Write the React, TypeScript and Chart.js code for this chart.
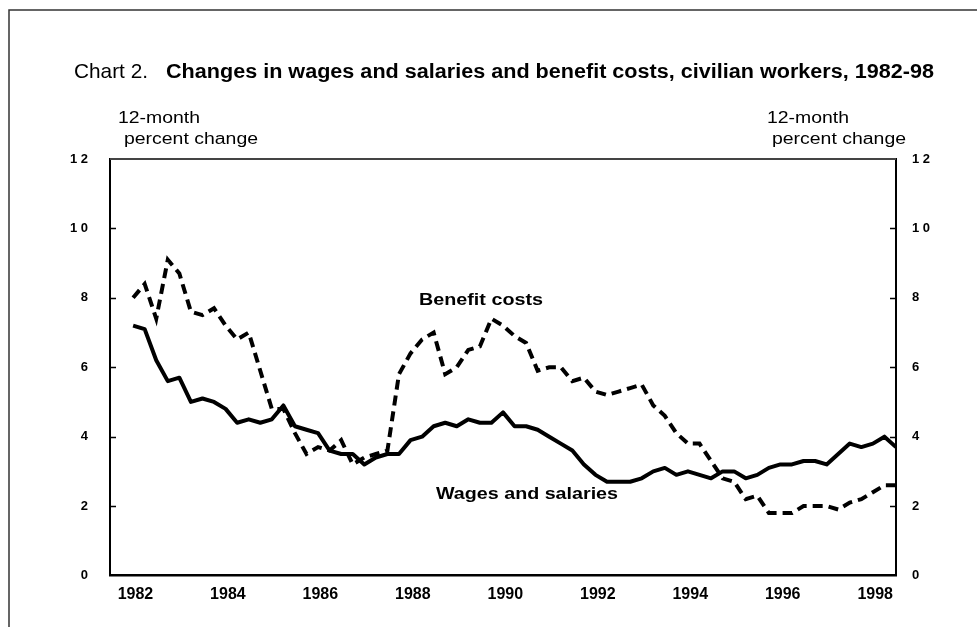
import React, { useEffect, useRef } from "react";
import { Chart, registerables } from "chart.js";

Chart.register(...registerables);

// ---- Data (12-month percent change, quarterly, June 1982 – December 1998) ----
const years = [1982, 1983, 1984, 1985, 1986, 1987, 1988, 1989, 1990, 1991, 1992, 1993, 1994, 1995, 1996, 1997, 1998];
const quarterMonths = ["Mar", "Jun", "Sep", "Dec"];
const monthNumber: Record<string, number> = { Mar: 3, Jun: 6, Sep: 9, Dec: 12 };
// first observation is June 1982
const quarterLabels: string[] = years
  .flatMap((y) => quarterMonths.map((m) => `${m} ${y}`))
  .filter((l) => l !== "Mar 1982");

const wagesAndSalaries = [
  7.2, 7.1, 6.2,
  5.6, 5.7, 5.0, 5.1,
  5.0, 4.8, 4.4, 4.5,
  4.4, 4.5, 4.9, 4.3,
  4.2, 4.1, 3.6, 3.5,
  3.5, 3.2, 3.4, 3.5,
  3.5, 3.9, 4.0, 4.3,
  4.4, 4.3, 4.5, 4.4,
  4.4, 4.7, 4.3, 4.3,
  4.2, 4.0, 3.8, 3.6,
  3.2, 2.9, 2.7, 2.7,
  2.7, 2.8, 3.0, 3.1,
  2.9, 3.0, 2.9, 2.8,
  3.0, 3.0, 2.8, 2.9,
  3.1, 3.2, 3.2, 3.3,
  3.3, 3.2, 3.5, 3.8,
  3.7, 3.8, 4.0, 3.7,
];

const benefitCosts = [
  8.0, 8.4, 7.4,
  9.1, 8.7, 7.6, 7.5,
  7.7, 7.2, 6.8, 7.0,
  5.9, 4.8, 4.8, 4.1,
  3.5, 3.7, 3.6, 3.9,
  3.2, 3.4, 3.5, 3.6,
  5.8, 6.4, 6.8, 7.0,
  5.8, 6.0, 6.5, 6.6,
  7.4, 7.2, 6.9, 6.7,
  5.9, 6.0, 6.0, 5.6,
  5.7, 5.3, 5.2, 5.3,
  5.4, 5.5, 4.9, 4.6,
  4.1, 3.8, 3.8, 3.3,
  2.8, 2.7, 2.2, 2.3,
  1.8, 1.8, 1.8, 2.0,
  2.0, 2.0, 1.9, 2.1,
  2.2, 2.4, 2.6, 2.6,
];

const xTickLabels = ["1982", "1984", "1986", "1988", "1990", "1992", "1994", "1996", "1998"];
const yTickValues = [0, 2, 4, 6, 8, 10, 12];

const titlePrefix = "Chart 2.";
const titleMain = "Changes in wages and salaries and benefit costs, civilian workers, 1982-98";
const unitLine1 = "12-month";
const unitLine2 = "percent change";
const benefitLabel = "Benefit costs";
const wagesLabel = "Wages and salaries";

// quarter-end position on a continuous year axis
const toYearPos = (label: string) => {
  const [m, y] = label.split(" ");
  return Number(y) + monthNumber[m] / 12;
};

const FONT = "'Liberation Sans', Arial, Helvetica, sans-serif";

function fitText(ctx: CanvasRenderingContext2D, text: string, font: string, x: number, baseline: number, width: number) {
  ctx.save();
  ctx.font = font;
  ctx.fillStyle = "#000";
  ctx.textAlign = "left";
  ctx.textBaseline = "alphabetic";
  const w = ctx.measureText(text).width;
  ctx.translate(x, baseline);
  ctx.scale(width / w, 1);
  ctx.fillText(text, 0, 0);
  ctx.restore();
}

const decorPlugin = {
  id: "decor",
  afterDraw(chart: any) {
    const ctx: CanvasRenderingContext2D = chart.ctx;
    const { left, right, top } = chart.chartArea;
    const y = chart.scales.y;

    ctx.save();
    // outer frame (top and left edges)
    ctx.strokeStyle = "#333";
    ctx.lineWidth = 1.5;
    ctx.beginPath();
    ctx.moveTo(977, 10);
    ctx.lineTo(9, 10);
    ctx.lineTo(9, 627);
    ctx.stroke();

    // plot top border
    ctx.strokeStyle = "#444";
    ctx.lineWidth = 2;
    ctx.beginPath();
    ctx.moveTo(left, top);
    ctx.lineTo(right, top);
    ctx.stroke();

    // inner tick marks on both vertical axes
    ctx.strokeStyle = "#000";
    ctx.lineWidth = 1.5;
    yTickValues.forEach((v) => {
      if (v === 0 || v === 12) return;
      const py = Math.round(y.getPixelForValue(v)) + 0.5;
      ctx.beginPath();
      ctx.moveTo(left, py);
      ctx.lineTo(left + 6, py);
      ctx.moveTo(right - 6, py);
      ctx.lineTo(right, py);
      ctx.stroke();
    });
    ctx.restore();

    // title
    fitText(ctx, titlePrefix, `21px ${FONT}`, 74, 78, 74);
    fitText(ctx, titleMain, `bold 20px ${FONT}`, 166, 78, 768);

    // unit labels
    fitText(ctx, unitLine1, `16px ${FONT}`, 118, 123, 82);
    fitText(ctx, unitLine2, `16px ${FONT}`, 124, 144, 134);
    fitText(ctx, unitLine1, `16px ${FONT}`, 767, 123, 82);
    fitText(ctx, unitLine2, `16px ${FONT}`, 772, 144, 134);

    // series labels
    fitText(ctx, benefitLabel, `bold 16px ${FONT}`, 419, 305, 124);
    fitText(ctx, wagesLabel, `bold 16px ${FONT}`, 436, 499, 182);
  },
};

const spaced = (v: number) => String(v).split("").join(" ");

export default function App() {
  const canvasRef = useRef<HTMLCanvasElement | null>(null);

  useEffect(() => {
    document.body.style.margin = "0";
    const canvas = canvasRef.current;
    if (!canvas) return;

    const wagesData = quarterLabels.map((q, i) => ({ x: toYearPos(q), y: wagesAndSalaries[i] }));
    const benefitData = quarterLabels.map((q, i) => ({ x: toYearPos(q), y: benefitCosts[i] }));

    const yAxisCommon = {
      type: "linear" as const,
      min: 0,
      max: 12,
      grid: { display: false, drawTicks: false },
      border: { display: true, color: "#000", width: 2 },
      afterBuildTicks: (s: any) => {
        s.ticks = yTickValues.map((v) => ({ value: v }));
      },
    };

    const chart = new Chart(canvas, {
      type: "line",
      data: {
        datasets: [
          {
            label: benefitLabel,
            data: benefitData,
            borderColor: "#000",
            borderWidth: 4,
            borderDash: [10, 6],
            borderCapStyle: "butt",
            pointRadius: 0,
            tension: 0,
            fill: false,
          },
          {
            label: wagesLabel,
            data: wagesData,
            borderColor: "#000",
            borderWidth: 4,
            borderJoinStyle: "round",
            pointRadius: 0,
            tension: 0,
            fill: false,
          },
        ],
      },
      options: {
        responsive: false,
        animation: false,
        devicePixelRatio: 1,
        layout: { padding: { top: 159, left: 0, right: 0, bottom: 0 } },
        plugins: { legend: { display: false }, tooltip: { enabled: false }, title: { display: false } },
        scales: {
          x: {
            type: "linear",
            position: "bottom",
            min: 1982,
            max: 1999,
            grid: { display: false, drawTicks: false },
            border: { display: true, color: "#000", width: 2.5 },
            afterBuildTicks: (s: any) => {
              s.ticks = xTickLabels.map((t) => ({ value: Number(t) + 0.55 }));
            },
            afterFit: (s: any) => {
              s.height = 51.5;
            },
            ticks: {
              autoSkip: false,
              maxRotation: 0,
              color: "#000",
              padding: 9,
              font: { family: FONT, size: 16, weight: "bold" },
              callback: (v: any) => String(Math.floor(Number(v))),
            },
          },
          y: {
            ...yAxisCommon,
            position: "left",
            afterFit: (s: any) => {
              s.width = 110;
            },
            ticks: {
              color: "#000",
              padding: 22,
              font: { family: FONT, size: 13, weight: "bold" },
              callback: (v: any) => spaced(Number(v)),
            },
          },
          y2: {
            ...yAxisCommon,
            position: "right",
            afterFit: (s: any) => {
              s.width = 81;
            },
            ticks: {
              color: "#000",
              padding: 16,
              font: { family: FONT, size: 13, weight: "bold" },
              callback: (v: any) => spaced(Number(v)),
            },
          },
        },
      },
      plugins: [decorPlugin],
    } as any);

    return () => chart.destroy();
  }, []);

  return (
    <div style={{ position: "absolute", left: 0, top: 0, width: 977, height: 627, background: "#fff" }}>
      <canvas ref={canvasRef} width={977} height={627} style={{ display: "block", width: 977, height: 627 }} />
    </div>
  );
}
